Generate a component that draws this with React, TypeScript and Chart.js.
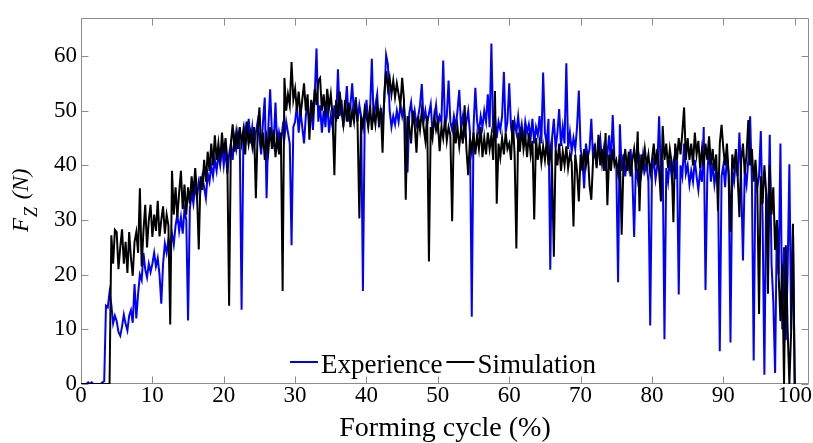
import React, { useEffect, useRef } from "react";
import { Chart, registerables } from "chart.js";

Chart.register(...registerables);

// Axis ranges and ticks
const X_MIN = 0;
const X_MAX = 102;
const Y_MIN = 0;
const Y_MAX = 67;
const X_STEP = 0.25; // sampling of the forming cycle (%)
const X_TICKS = [0, 10, 20, 30, 40, 50, 60, 70, 80, 90, 100];
const Y_TICKS = [0, 10, 20, 30, 40, 50, 60];

const SERIES_NAMES = ["Experience", "Simulation"];
const X_TITLE = "Forming cycle (%)";

// Experience (blue) – F_Z in N, one value every 0.25 % of the forming cycle (0..100)
const EXPERIENCE = [
  0, 0, 0, 0, 0.3, 0, 0.3, 0, 0, 0, 0, 0, 0.3, 0.5, 14.3, 14, 16.8, 14.5, 11.1, 12.5,
  11.5, 9.5, 8.8, 10.5, 12.7, 11, 9.8, 12.5, 13.5, 11.2, 18.3, 12, 16.5, 20, 19, 24, 21, 19.5, 22, 20.5,
  22, 24, 21.5, 23, 20, 14.7, 22, 25.7, 24, 26.5, 25, 27.5, 25.5, 29, 31, 28, 30.5, 27.5, 32, 30,
  11.6, 32, 35, 33, 36.5, 34, 37, 35.5, 38, 36, 34, 38.5, 37, 40, 38, 41, 39, 42, 40, 43.5,
  40, 43, 38.5, 42, 44, 41, 45, 43, 46, 44, 13.6, 44.5, 47, 45, 48.5, 44, 47, 43.5, 46, 48,
  45, 42, 48, 52.4, 34, 47, 53.9, 46, 44, 51.5, 43, 46, 44, 47, 45, 48, 46, 44, 25.4, 47,
  48, 51, 46, 50, 47, 44, 49, 52, 47, 50, 46.5, 53, 61.4, 48, 51, 46, 50, 47, 52, 46,
  49, 47, 51, 48, 57.6, 49, 52, 47, 50, 54.5, 48, 51, 55, 49, 52.5, 48, 51, 49, 17, 48,
  52, 47.5, 50, 59.5, 48, 51, 53, 47, 50, 48, 52, 60.2, 58.5, 50, 47, 49, 47.5, 50, 48, 51,
  49, 51, 47, 38.7, 49.5, 51.5, 48, 50, 47.5, 49, 51, 54.9, 48, 50, 47.5, 49.5, 51.2, 46, 48.5, 51,
  47, 49, 48, 59.2, 47, 49, 55.5, 48, 46.5, 49, 47, 50, 53.8, 47, 49, 46, 48, 50, 46, 12.3,
  47, 54.2, 48, 46, 49, 47, 50, 48, 53, 47, 62.3, 46, 49, 45, 48, 46.5, 49, 57.1, 46, 48,
  55, 47, 45, 48, 46, 49, 45.5, 47.5, 44.5, 48, 46, 47.5, 45, 48.5, 44, 47, 45.5, 49, 44, 57,
  46, 44, 48.5, 20.9, 45, 48.5, 43, 46, 50.3, 43.5, 47, 44, 58.7, 43, 46, 42.5, 45, 43, 47, 53.7,
  43, 41, 35.8, 44, 41.5, 43, 48.5, 41, 44, 40, 43, 45, 40.5, 43, 39, 42, 45.5, 40, 49.2, 41,
  40, 18.6, 47.5, 39, 42, 38, 41, 39.5, 43, 38, 26.9, 40, 37.5, 41, 38.5, 42, 39, 40.5, 37, 10.7,
  39, 41, 37.5, 40, 49, 38, 41, 8.2, 39.5, 37, 41, 38, 40.5, 37.5, 42, 16.4, 40, 38, 44, 38.5,
  40, 36.5, 39, 37, 41, 38, 35.5, 39, 37, 47, 17.2, 38, 44, 37, 40.5, 36.5, 39, 37.5, 6, 38,
  40, 36, 42, 38.5, 7.6, 39, 37, 41, 38, 46, 37, 22.6, 39, 36.5, 41, 49, 37, 4.3, 39, 36,
  38, 46.3, 30, 1.7, 35, 28, 45.6, 22, 15, 2, 30, 20, 44, 10, 25, 8, 20, 40.2, 10, 29,
  0,
];

// Simulation (black) – same sampling
const SIMULATION = [
  0, 0, 0, 0, 0, 0, 0, 0, 0, 0, 0, 0, 0, 0, 0, 0, 0, 27.2, 22, 28.2,
  27.8, 21, 25, 28.3, 22, 26, 20.3, 27.8, 23, 19.8, 26, 27.8, 24, 35.8, 21.5, 28, 32.8, 25, 30, 32.8,
  26.9, 31, 28, 33.5, 27, 30, 32.5, 27.5, 31, 29, 10.9, 39, 31, 36, 30.5, 35, 39, 32, 36.5, 31,
  36, 33, 38, 34.5, 39.5, 35, 24.6, 38, 35.5, 41, 37, 42.5, 39, 44, 40, 45.5, 41, 44, 40.5, 46,
  42, 45, 41, 14.3, 44, 47.5, 42.5, 46, 43, 47, 44, 46.5, 42, 48, 44, 46, 43.5, 47, 34, 46,
  50.6, 43, 46, 41, 45, 42.5, 47, 43, 46.5, 41.5, 45, 42, 46, 17, 56, 50, 53, 51, 58.9, 52,
  54, 50, 53.5, 49, 52, 55, 50, 53, 44.7, 52, 49.5, 54, 51, 55.5, 56, 50, 53, 49, 54, 50.5,
  53, 49, 38.2, 52, 48.5, 53.5, 50, 47.5, 52, 48, 51.5, 47, 50, 48, 52, 47.5, 30.3, 49, 47, 50.5,
  49, 47, 51, 46.5, 50, 47.5, 51, 48, 50.5, 42.3, 53, 57.2, 54, 56, 53, 55.5, 52.5, 55, 53, 51,
  56, 52, 33.7, 49, 47, 44, 50, 47.5, 42.3, 49, 46.5, 50, 47, 44.5, 49, 22.4, 47, 45, 49, 46.5,
  48, 42.6, 47, 45, 48.5, 44.5, 47, 45.5, 29.8, 48, 44, 47, 43.5, 46.5, 44, 51, 43, 38.2, 45, 42.5,
  46, 42, 45.5, 43, 47, 41.5, 45, 42, 46, 43, 45.5, 41, 53.6, 33, 44, 41.5, 45, 42, 46, 43,
  44, 41, 48.3, 42, 24.8, 46, 42.5, 47, 43, 45.5, 41.5, 46, 42, 44.5, 30.1, 45, 41, 44, 40.5, 43.5,
  41, 44.5, 40, 43, 39.5, 23.3, 43, 40, 44, 39, 42.5, 40, 43.5, 39.5, 42, 40.5, 28.8, 42, 39, 33.4,
  42, 39, 43, 40, 42.5, 36.4, 33.7, 41, 43, 39.5, 45.6, 40, 43, 39, 45.9, 32.7, 42, 39, 43, 40,
  41, 38.5, 42, 27.3, 40, 43, 39, 42.5, 38, 41, 43, 39, 46.2, 31.6, 42, 39.5, 43, 40, 42, 38.5,
  41, 44, 40, 43, 39, 33.4, 47.2, 41, 44, 39.5, 43, 40.5, 29.6, 44, 41, 45, 42, 46, 50.6, 41,
  45, 41, 44, 40, 46, 42, 44.5, 39.5, 43, 40, 44, 41, 45.3, 40, 43, 39, 42, 31.6, 44, 47.4,
  43, 40, 44, 38, 27.8, 42, 39.5, 43, 38, 30.5, 41, 44, 38.5, 42, 48.3, 40, 43, 37, 41, 36,
  12.8, 38, 33, 40, 35, 16.5, 40, 31, 36, 24.5, 30, 19.8, 11.5, 22, 0, 25.4, 10.2, 0, 9.7, 29.3,
  0,
];

const SERIF = '"Liberation Serif", "Times New Roman", Times, serif';
const FRAME = "#8c8c8c";

const toPoints = (ys: number[]) => ys.map((y, i) => ({ x: i * X_STEP, y }));

const decorPlugin = {
  id: "decor",
  beforeDatasetsDraw(chart: any) {
    const { ctx, chartArea: a, scales } = chart;
    ctx.save();
    ctx.strokeStyle = FRAME;
    ctx.lineWidth = 1;
    const L = Math.round(a.left) + 0.5;
    const R = Math.round(a.right) - 0.5;
    const T = Math.round(a.top) + 0.5;
    const B = Math.round(a.bottom) - 0.5;
    ctx.beginPath();
    ctx.rect(L, T, R - L, B - T);
    const tl = 7;
    X_TICKS.forEach((v) => {
      const px = Math.round(scales.x.getPixelForValue(v)) + 0.5;
      ctx.moveTo(px, B);
      ctx.lineTo(px, B - tl);
      ctx.moveTo(px, T);
      ctx.lineTo(px, T + tl);
    });
    Y_TICKS.forEach((v) => {
      const py = Math.round(scales.y.getPixelForValue(v)) + 0.5;
      ctx.moveTo(L, py);
      ctx.lineTo(L + tl, py);
      ctx.moveTo(R, py);
      ctx.lineTo(R - tl, py);
    });
    ctx.stroke();
    ctx.restore();
  },
  afterDraw(chart: any) {
    const { ctx, chartArea: a } = chart;
    ctx.save();
    ctx.fillStyle = "#000";
    // x title
    ctx.font = `28px ${SERIF}`;
    ctx.textAlign = "center";
    ctx.textBaseline = "alphabetic";
    ctx.fillText(X_TITLE, (a.left + a.right) / 2, 436);

    // y title: F_Z (N), italic, rotated
    ctx.save();
    ctx.translate(28, 232);
    ctx.rotate(-Math.PI / 2);
    ctx.textAlign = "left";
    ctx.font = `italic 23px ${SERIF}`;
    ctx.fillText("F", 0, 0);
    let u = ctx.measureText("F").width + 1;
    ctx.font = `italic 18px ${SERIF}`;
    ctx.fillText("Z", u, 9);
    u += ctx.measureText("Z").width;
    ctx.font = `italic 23px ${SERIF}`;
    ctx.fillText(" (N)", u + 2, 0);
    ctx.restore();

    // legend
    ctx.font = `27px ${SERIF}`;
    ctx.textAlign = "left";
    ctx.textBaseline = "alphabetic";
    const ly = 362;
    const base = 373;
    let x = 290;
    ctx.lineWidth = 2;
    const colors = ["#0000ff", "#000000"];
    SERIES_NAMES.forEach((name, i) => {
      ctx.strokeStyle = colors[i];
      ctx.beginPath();
      ctx.moveTo(x, ly);
      ctx.lineTo(x + 28, ly);
      ctx.stroke();
      x += 31;
      ctx.fillText(name, x, base);
      x += ctx.measureText(name).width + 4;
    });
    ctx.restore();
  },
};

export default function App() {
  const ref = useRef<HTMLCanvasElement>(null);

  useEffect(() => {
    const canvas = ref.current;
    if (!canvas) return;
    const chart = new Chart(canvas, {
      type: "line",
      data: {
        datasets: [
          {
            label: SERIES_NAMES[1],
            data: toPoints(SIMULATION),
            borderColor: "#000000",
            borderWidth: 2,
            pointRadius: 0,
            tension: 0,
            order: 0,
          },
          {
            label: SERIES_NAMES[0],
            data: toPoints(EXPERIENCE),
            borderColor: "#0000ff",
            borderWidth: 2,
            pointRadius: 0,
            tension: 0,
            order: 1,
          },
        ],
      },
      options: {
        animation: false,
        responsive: false,
        devicePixelRatio: 1,
        layout: { autoPadding: false, padding: { top: 6, right: 4, left: 0, bottom: 0 } },
        plugins: { legend: { display: false }, tooltip: { enabled: false } },
        scales: {
          x: {
            type: "linear",
            min: X_MIN,
            max: X_MAX,
            grid: { display: false, drawTicks: false },
            border: { display: false },
            ticks: {
              stepSize: 10,
              includeBounds: false,
              maxRotation: 0,
              autoSkip: false,
              padding: -2,
              color: "#000",
              font: { family: SERIF, size: 23 },
            },
            afterFit: (s: any) => {
              s.height = 59;
            },
          },
          y: {
            type: "linear",
            min: Y_MIN,
            max: Y_MAX,
            grid: { display: false, drawTicks: false },
            border: { display: false },
            ticks: {
              stepSize: 10,
              includeBounds: false,
              padding: 4,
              color: "#000",
              font: { family: SERIF, size: 23 },
            },
            afterFit: (s: any) => {
              s.width = 81;
            },
          },
        },
      },
      plugins: [decorPlugin],
    });
    return () => chart.destroy();
  }, []);

  return (
    <div style={{ position: "fixed", left: 0, top: 0, width: 813, height: 443, background: "#fff" }}>
      <canvas ref={ref} width={813} height={443} style={{ display: "block", width: 813, height: 443 }} />
    </div>
  );
}
